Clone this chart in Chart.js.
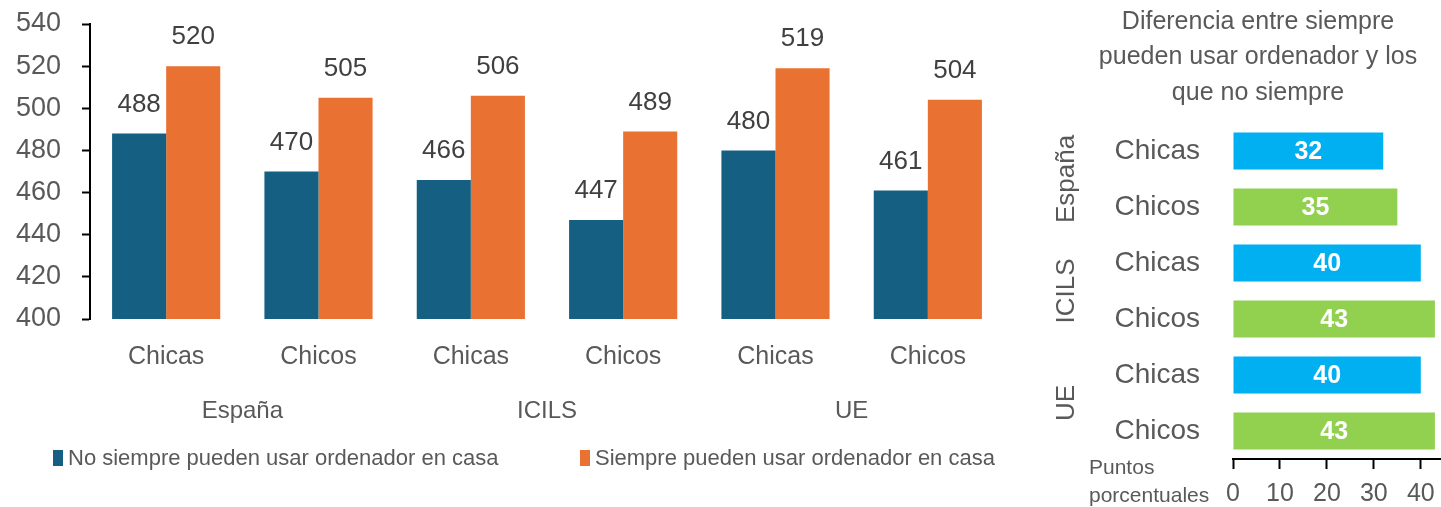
<!DOCTYPE html>
<html>
<head>
<meta charset="utf-8">
<script src="https://cdn.jsdelivr.net/npm/chart.js"></script>
<style>
  body { margin: 0; background: #fff; }
  #wrap { position: relative; width: 1441px; height: 507px; overflow: hidden; }
  #left { position: absolute; left: 0; top: 0; }
  #right { position: absolute; left: 1040px; top: 0; }
</style>
</head>
<body>
<div id="wrap">
  <canvas id="left" width="1040" height="507"></canvas>
  <canvas id="right" width="401" height="507"></canvas>
</div>
<script>
// datos del grafico principal
const categorias = ['Chicas', 'Chicos', 'Chicas', 'Chicos', 'Chicas', 'Chicos'];
const grupos = ['España', 'ICILS', 'UE'];
const noSiempre = [488, 470, 466, 447, 480, 461];
const siempre = [520, 505, 506, 489, 519, 504];
const seriesNombres = ['No siempre pueden usar ordenador en casa', 'Siempre pueden usar ordenador en casa'];

// datos del grafico de diferencias
const diferencias = [32, 35, 40, 43, 40, 43];
const tituloDif = ['Diferencia entre siempre', 'pueden usar ordenador y los', 'que no siempre'];
const ticksDif = [0, 10, 20, 30, 40];

const FONT = "'Liberation Sans', Arial, sans-serif";
const GRIS = '#595959';
const coloresSerie = ['#156082', '#E97132'];

// quita el margen extra que Chart.js reserva para las etiquetas de los extremos
function sinMargen(s) {
  s.paddingTop = 0; s.paddingBottom = 0; s.paddingLeft = 0; s.paddingRight = 0;
}

// etiquetas, grupos y leyenda del grafico izquierdo
const extrasIzq = {
  id: 'extrasIzq',
  afterDatasetsDraw(chart) {
    const ctx = chart.ctx;
    ctx.save();
    ctx.font = '26px ' + FONT;
    ctx.fillStyle = '#404040';
    ctx.textAlign = 'center';
    ctx.textBaseline = 'middle';
    chart.data.datasets.forEach((ds, i) => {
      chart.getDatasetMeta(i).data.forEach((bar, j) => {
        ctx.fillText(ds.data[j], bar.x, bar.y - 29);
      });
    });
    // nombres de grupo
    const x = chart.scales.x;
    ctx.font = '24px ' + FONT;
    ctx.fillStyle = GRIS;
    grupos.forEach((g, k) => {
      const cx = (x.getPixelForValue(k * 2) + x.getPixelForValue(k * 2 + 1)) / 2;
      ctx.fillText(g, cx, 411);
    });
    // leyenda
    ctx.font = '22px ' + FONT;
    ctx.textAlign = 'left';
    const posLeyenda = [53, 580];
    seriesNombres.forEach((n, k) => {
      ctx.fillStyle = coloresSerie[k];
      ctx.fillRect(posLeyenda[k], 450, 10, 16);
      ctx.fillStyle = GRIS;
      ctx.fillText(n, posLeyenda[k] + 15, 459);
    });
    ctx.restore();
  }
};

new Chart(document.getElementById('left'), {
  type: 'bar',
  data: {
    labels: categorias,
    datasets: [
      { label: seriesNombres[0], data: noSiempre, backgroundColor: coloresSerie[0] },
      { label: seriesNombres[1], data: siempre, backgroundColor: coloresSerie[1] }
    ]
  },
  options: {
    responsive: false,
    animation: false,
    categoryPercentage: 0.71,
    barPercentage: 1.0,
    layout: { autoPadding: false, padding: { top: 24, bottom: 137, right: 36, left: 0 } },
    plugins: { legend: { display: false }, tooltip: { enabled: false } },
    scales: {
      x: {
        grid: { display: false },
        border: { display: false },
        ticks: { color: GRIS, font: { family: FONT, size: 25 }, padding: 15 },
        afterFit(s) { s.height = 51; sinMargen(s); }
      },
      y: {
        min: 400, max: 540,
        ticks: { stepSize: 20, color: GRIS, font: { family: FONT, size: 27 }, padding: 21 },
        grid: { drawOnChartArea: false, drawTicks: true, tickLength: 8, tickColor: '#000', tickWidth: 2 },
        border: { color: '#000', width: 2 },
        afterFit(s) { s.width = 90; sinMargen(s); }
      }
    }
  },
  plugins: [extrasIzq]
});

// grafico de diferencias
const gruposDif = ['España', 'ICILS', 'UE'];
const coloresDif = ['#00B0F0', '#92D050', '#00B0F0', '#92D050', '#00B0F0', '#92D050'];

const extrasDer = {
  id: 'extrasDer',
  afterDatasetsDraw(chart) {
    const ctx = chart.ctx;
    ctx.save();
    ctx.textBaseline = 'middle';
    ctx.textAlign = 'center';
    // valores dentro de las barras
    ctx.font = 'bold 25px ' + FONT;
    ctx.fillStyle = '#fff';
    chart.getDatasetMeta(0).data.forEach((bar, j) => {
      ctx.fillText(diferencias[j], (bar.x + bar.base) / 2, bar.y + 1);
    });
    // titulo
    ctx.font = '25px ' + FONT;
    ctx.fillStyle = GRIS;
    tituloDif.forEach((t, k) => ctx.fillText(t, 218, 22 + k * 35.5));
    // grupos rotados
    const y = chart.scales.y;
    ctx.font = '26px ' + FONT;
    gruposDif.forEach((g, k) => {
      const cy = (y.getPixelForValue(k * 2) + y.getPixelForValue(k * 2 + 1)) / 2;
      ctx.save();
      ctx.translate(27, cy);
      ctx.rotate(-Math.PI / 2);
      ctx.fillText(g, 0, 0);
      ctx.restore();
    });
    // titulo del eje
    ctx.font = '21px ' + FONT;
    ctx.textAlign = 'left';
    ctx.fillText('Puntos', 49, 468);
    ctx.fillText('porcentuales', 49, 496);
    ctx.restore();
  }
};

new Chart(document.getElementById('right'), {
  type: 'bar',
  data: {
    labels: categorias,
    datasets: [{ data: diferencias, backgroundColor: coloresDif }]
  },
  options: {
    indexAxis: 'y',
    responsive: false,
    animation: false,
    categoryPercentage: 0.66,
    barPercentage: 1.0,
    layout: { autoPadding: false, padding: { top: 123, bottom: 0, left: 0, right: 0 } },
    plugins: { legend: { display: false }, tooltip: { enabled: false } },
    scales: {
      y: {
        grid: { display: false },
        border: { display: false },
        ticks: { color: GRIS, font: { family: FONT, size: 28 }, padding: 25 },
        afterFit(s) { s.width = 193; sinMargen(s); }
      },
      x: {
        min: 0, max: 44.3,
        afterBuildTicks(s) { s.ticks = ticksDif.map(v => ({ value: v })); },
        ticks: { color: GRIS, font: { family: FONT, size: 25, lineHeight: 1 }, padding: 13 },
        grid: { drawOnChartArea: false, drawTicks: true, tickLength: 10, tickColor: '#000', tickWidth: 2 },
        border: { color: '#000', width: 2 },
        afterFit(s) { s.height = 48; sinMargen(s); }
      }
    }
  },
  plugins: [extrasDer]
});
</script>
</body>
</html>
